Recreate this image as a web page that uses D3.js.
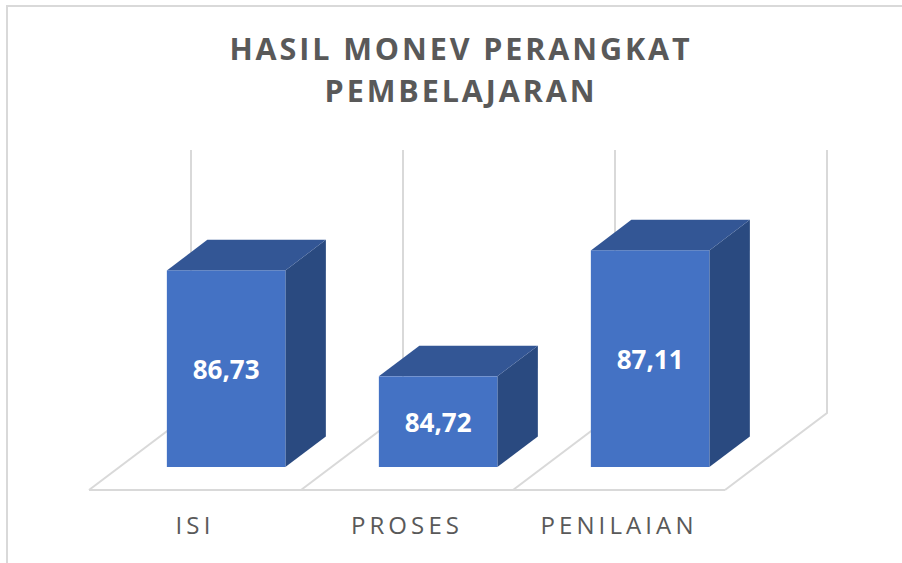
<!DOCTYPE html>
<html>
<head>
<meta charset="utf-8">
<script src="https://cdn.jsdelivr.net/npm/d3@7"></script>
<style>
  html, body { margin: 0; padding: 0; background: #fff; }
  svg { display: block; }
</style>
</head>
<body>
<div id="chart"></div>
<script>
var titleLines = ["HASIL MONEV PERANGKAT", "PEMBELAJARAN"];
var categories = ["ISI", "PROSES", "PENILAIAN"];
var values = [86.73, 84.72, 87.11];
var valueLabels = ["86,73", "84,72", "87,11"];
var domainValues = [83, 88];

var fontFamily = "'Open Sans', sans-serif";
var gridColor = "#d9d9d9";

var svg = d3.select("#chart")
    .append("svg")
    .attr("width", 902)
    .attr("height", 563);

svg.append("rect")
    .attr("width", 902)
    .attr("height", 563)
    .attr("fill", "#fff");

// chart frame, only top and left show in the crop
svg.append("path")
    .attr("d", "M7,563V6H902")
    .attr("fill", "none")
    .attr("stroke", gridColor)
    .attr("stroke-width", 2);

svg.selectAll(".title")
    .data(titleLines)
    .enter().append("text")
    .attr("class", "title")
    .attr("x", 461)
    .attr("y", (d, i) => 60 + i * 42)
    .attr("text-anchor", "middle")
    .attr("fill", "#595959")
    .style("font-family", fontFamily)
    .style("font-weight", 700)
    .style("font-size", "30.5px")
    .style("letter-spacing", "2.9px")
    .text(d => d);

// floor front edge runs along x, y is measured on the plane of the bars
var x = d3.scaleBand()
    .domain(categories)
    .range([89, 725]);

var y = d3.scaleLinear()
    .domain(domainValues)
    .range([467, 203.5]);

// oblique projection: how far a depth fraction shifts a point
var depthX = 102, depthY = 77;
var floorY = 490;
var barPlane = 0.305;   // front of the bars, fraction of floor depth
var barDepth = 0.397;
var barWidth = 118.5;

var grid = svg.append("g");

// floor and wall lines at each category boundary
var boundaries = categories.map(d => x(d)).concat(x.range()[1]);

boundaries.forEach(function (bx) {
    grid.append("path")
        .attr("d", d3.line()([
            [bx, floorY],
            [bx + depthX, floorY - depthY],
            [bx + depthX, 150]
        ]))
        .attr("fill", "none")
        .attr("stroke", gridColor)
        .attr("stroke-width", 2);
});

grid.append("line")
    .attr("x1", x.range()[0])
    .attr("x2", x.range()[1])
    .attr("y1", floorY)
    .attr("y2", floorY)
    .attr("stroke", gridColor)
    .attr("stroke-width", 2);

var bars = svg.selectAll(".bar")
    .data(categories.map((c, i) => ({ name: c, value: values[i], label: valueLabels[i] })))
    .enter().append("g")
    .attr("class", "bar");

function frontX(d) {
    return x(d.name) + x.bandwidth() / 2 + barPlane * depthX - barWidth / 2;
}

var dx = barDepth * depthX, dy = barDepth * depthY;

// side face
bars.append("path")
    .attr("d", function (d) {
        var x1 = frontX(d) + barWidth;
        return d3.line()([
            [x1, y(d.value)],
            [x1 + dx, y(d.value) - dy],
            [x1 + dx, y(domainValues[0]) - dy],
            [x1, y(domainValues[0])]
        ]) + "Z";
    })
    .attr("fill", "#2a4a80");

// top face
bars.append("path")
    .attr("d", function (d) {
        var x0 = frontX(d);
        return d3.line()([
            [x0, y(d.value)],
            [x0 + dx, y(d.value) - dy],
            [x0 + barWidth + dx, y(d.value) - dy],
            [x0 + barWidth, y(d.value)]
        ]) + "Z";
    })
    .attr("fill", "#335695");

// front face
bars.append("rect")
    .attr("x", d => frontX(d))
    .attr("y", d => y(d.value))
    .attr("width", barWidth)
    .attr("height", d => y(domainValues[0]) - y(d.value))
    .attr("fill", "#4472c4");

bars.append("text")
    .attr("x", d => frontX(d) + barWidth / 2)
    .attr("y", d => (y(d.value) + y(domainValues[0])) / 2 + 10)
    .attr("text-anchor", "middle")
    .attr("fill", "#fff")
    .style("font-family", fontFamily)
    .style("font-weight", 700)
    .style("font-size", "26px")
    .text(d => d.label);

var axis = svg.append("g")
    .attr("transform", "translate(0," + floorY + ")")
    .call(d3.axisBottom(x).tickSize(0).tickPadding(27));

axis.select(".domain").remove();

axis.selectAll("text")
    .attr("fill", "#595959")
    .style("font-family", fontFamily)
    .style("font-size", "24px")
    .style("letter-spacing", "4.1px");
</script>
</body>
</html>
